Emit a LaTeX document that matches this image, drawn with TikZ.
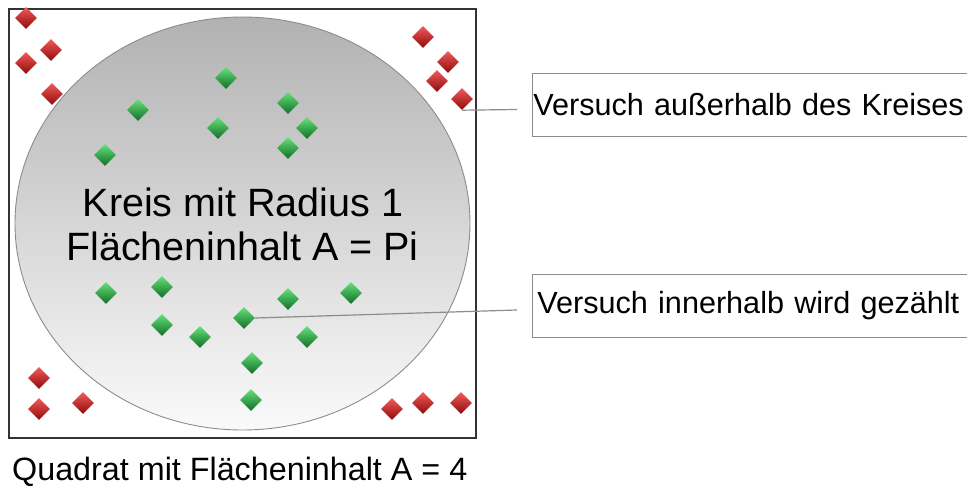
\documentclass[tikz,border=0pt]{standalone}
\usepackage{fontspec}
\setmainfont{Liberation Sans}
\usetikzlibrary{shapes.geometric}
\definecolor{redhi}{RGB}{240,90,90}
\definecolor{redmid}{RGB}{210,25,25}
\definecolor{redlo}{RGB}{145,10,10}
\definecolor{greenhi}{RGB}{100,225,120}
\definecolor{greenmid}{RGB}{30,180,65}
\definecolor{greenlo}{RGB}{18,110,40}
\definecolor{circtop}{RGB}{178,178,178}
\definecolor{circbot}{RGB}{250,250,250}
\definecolor{linegray}{RGB}{140,140,140}
\begin{document}
\begin{tikzpicture}[x=1pt,y=-1pt,
  gem/.style={diamond, minimum width=22pt, minimum height=22pt, inner sep=0pt},
  redgem/.style={gem, top color=redhi, middle color=redmid, bottom color=redlo},
  greengem/.style={gem, top color=greenhi, middle color=greenmid, bottom color=greenlo},
  labelbox/.style={draw=linegray, line width=0.9pt, anchor=west, minimum height=63pt,
    text width=440pt, align=left, font=\fontsize{30.6}{36}\selectfont},
  callout/.style={draw=linegray, line width=1.2pt}]
\useasboundingbox (0,0) rectangle (967,487);
% square and circle
\node[draw=black!80, line width=1.3pt, fill=white, minimum width=467pt, minimum height=429pt, inner sep=0pt] (sq) at (242.5,223.5) {};
\node[ellipse, draw=linegray, line width=0.9pt, minimum width=455pt, minimum height=413pt, inner sep=0pt,
  top color=circtop, bottom color=circbot] (circ) at (242.5,223.5) {};
% texts in circle
\node[anchor=base, font=\fontsize{39.5}{44}\selectfont, inner sep=0pt] (k1) at (243,216) {Kreis mit Radius 1};
\node[anchor=base, font=\fontsize{39.5}{44}\selectfont, inner sep=0pt] (k2) at (242.5,260) {Flächeninhalt A = Pi};
% caption
\node[anchor=base west, font=\fontsize{32.3}{38}\selectfont, inner sep=0pt] (cap) at (12,480) {Quadrat mit Flächeninhalt A = 4};
% red gems (outside)
\foreach \n/\x/\y in {1/26/18, 2/51/50, 3/26/63, 4/52/94, 5/423/37, 6/448/62, 7/437/81, 8/462/99,
  9/39/378, 10/39/409, 11/83/403, 12/392/409, 13/423/403, 14/461/403}
  \node[redgem] (r\n) at (\x,\y) {};
% green gems (inside)
\foreach \n/\x/\y in {1/226/78, 2/138/110, 3/288/103, 4/218/128, 5/307/128, 6/105/155, 7/288/148,
  8/106/293, 9/162/287, 10/351/293, 11/288/299, 12/244/318, 13/162/325, 14/200/337, 15/307/337,
  16/252/363, 17/251/400}
  \node[greengem] (g\n) at (\x,\y) {};
% label boxes
\node[labelbox, inner xsep=1pt] (lab1) at (532,104.5) {Versuch außerhalb des Kreises};
\node[labelbox, inner xsep=5pt] (lab2) at (532,306) {Versuch innerhalb wird gezählt};
% callouts
\coordinate (c1) at (517,109.5);
\coordinate (c2) at (517,310);
\draw[callout] (r8.south) -- (c1);
\draw[callout] (g12.east) -- (c2);
\end{tikzpicture}
\end{document}
